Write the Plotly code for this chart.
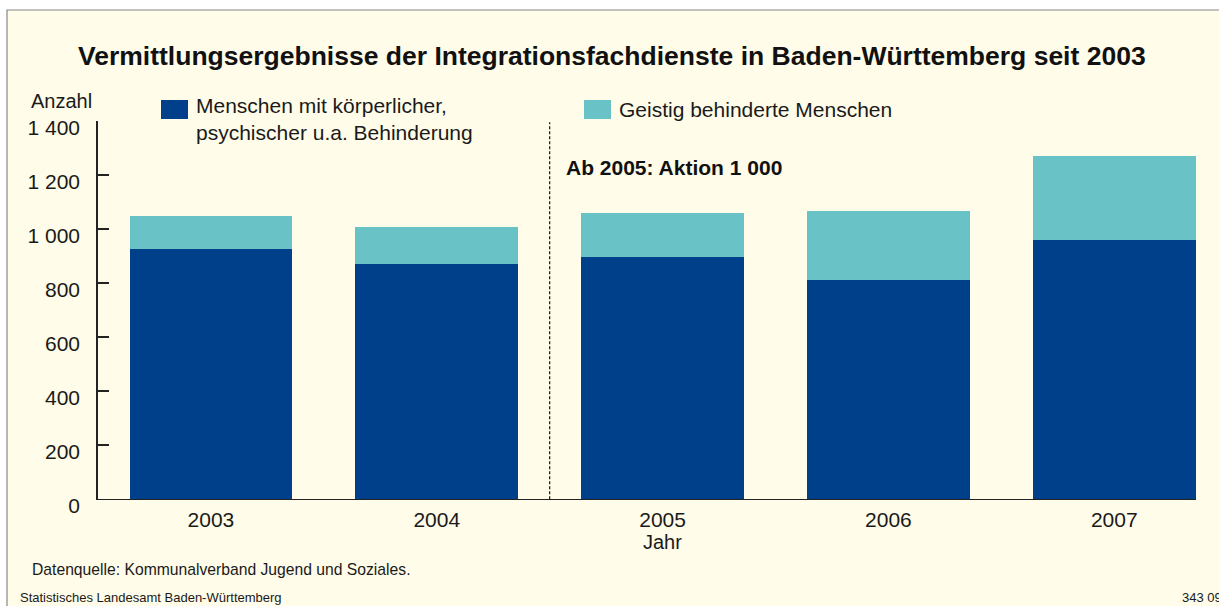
import plotly.graph_objects as go

# ---- data ----
years = ["2003", "2004", "2005", "2006", "2007"]
koerperlich = [926, 870, 897, 811, 959]      # Menschen mit körperlicher, psychischer u.a. Behinderung
geistig = [122, 137, 162, 255, 311]          # Geistig behinderte Menschen
y_tick_values = [0, 200, 400, 600, 800, 1000, 1200, 1400]
y_tick_labels = ["0", "200", "400", "600", "800", "1 000", "1 200", "1 400"]

DARK = "#00408A"
TEAL = "#69C2C5"
BG = "#FFFCE9"
TXT = "#1a1a1a"
FONT = "Liberation Sans, Arial, sans-serif"

W, H = 1219, 606
L, R, T, B = 98, 23, 121, 100
PW, PH = W - L - R, H - T - B
AXIS_BOTTOM = 499.3          # pixel row of value 0 on the bar axis
SHIFT = (H - B - AXIS_BOTTOM) / PH   # fraction of plot height between label axis and bar axis


def px(x):
    return (x - L) / PW


def py(y):
    return (H - B - y) / PH


fig = go.Figure()
fig.add_trace(go.Bar(x=years, y=koerperlich, marker=dict(color=DARK, line=dict(width=0)),
                     width=0.72, name="Menschen mit körperlicher, psychischer u.a. Behinderung",
                     showlegend=False))
fig.add_trace(go.Bar(x=years, y=geistig, marker=dict(color=TEAL, line=dict(width=0)),
                     width=0.72, name="Geistig behinderte Menschen", showlegend=False))
# invisible trace carrying the tick-label axis
fig.add_trace(go.Scatter(x=[years[0]], y=[None], yaxis="y2", showlegend=False, hoverinfo="skip"))

fig.update_layout(
    width=W, height=H,
    margin=dict(l=L, r=R, t=T, b=B, pad=0),
    barmode="stack",
    paper_bgcolor="white",
    plot_bgcolor="rgba(0,0,0,0)",
    font=dict(family=FONT, color=TXT, size=21),
    xaxis=dict(type="category", range=[-0.5, 4.362], showgrid=False, zeroline=False,
               showline=True, linecolor="#222", linewidth=1.3, ticks="", anchor="y",
               tickfont=dict(size=21, color=TXT), ticklabelstandoff=1),
    yaxis=dict(range=[0, 1400], domain=[SHIFT, 1], tickvals=y_tick_values, showticklabels=False,
               ticks="inside", ticklen=11, tickwidth=1.6, tickcolor="#222",
               showline=True, linecolor="#222", linewidth=1.6, showgrid=False, zeroline=False),
    yaxis2=dict(range=[0, 1400], domain=[0, 1 - SHIFT], anchor="x", side="left",
                tickvals=y_tick_values, ticktext=y_tick_labels, showline=False, showgrid=False,
                zeroline=False, ticks="", tickfont=dict(size=21, color=TXT), ticklabelstandoff=17),
)

shapes = [
    # frame / background
    dict(type="rect", xref="paper", yref="paper", x0=px(7), x1=px(1240), y0=py(630), y1=py(10),
         fillcolor=BG, line=dict(color="#888", width=1.2), layer="below"),
    # dashed separator between 2004 and 2005
    dict(type="line", xref="x", yref="y", x0=1.5, x1=1.5, y0=0, y1=1395,
         line=dict(color="#111", width=1.2, dash="3px,2px")),
    # legend swatches
    dict(type="rect", xref="paper", yref="paper", x0=px(161), x1=px(188), y0=py(119), y1=py(100),
         fillcolor=DARK, line=dict(width=0)),
    dict(type="rect", xref="paper", yref="paper", x0=px(584), x1=px(611), y0=py(119), y1=py(100),
         fillcolor=TEAL, line=dict(width=0)),
]

ann = [
    dict(text="<b>Vermittlungsergebnisse der Integrationsfachdienste in Baden-Württemberg seit 2003</b>",
         x=px(612), y=py(56), xanchor="center", yanchor="middle", font=dict(size=26.5, color="#111")),
    dict(text="Anzahl", x=px(29), y=py(101), xanchor="left", yanchor="middle", font=dict(size=20)),
    dict(text="Menschen mit körperlicher,<br>psychischer u.a. Behinderung", x=px(194), y=py(119),
         xanchor="left", yanchor="middle", align="left", font=dict(size=21)),
    dict(text="Geistig behinderte Menschen", x=px(617), y=py(109), xanchor="left", yanchor="middle",
         font=dict(size=21)),
    dict(text="<b>Ab 2005: Aktion 1 000</b>", x=px(564), y=py(167), xanchor="left", yanchor="middle",
         font=dict(size=21, color="#111")),
    dict(text="Jahr", xref="x", x=2, y=py(542), xanchor="center", yanchor="middle", font=dict(size=20)),
    dict(text="Datenquelle: Kommunalverband Jugend und Soziales.", x=px(30), y=py(569),
         xanchor="left", yanchor="middle", font=dict(size=15.7)),
    dict(text="Statistisches Landesamt Baden-Württemberg", x=px(18), y=py(597),
         xanchor="left", yanchor="middle", font=dict(size=13)),
    dict(text="343 09", x=px(1180), y=py(597), xanchor="left", yanchor="middle", font=dict(size=13)),
]
for a in ann:
    a.setdefault("xref", "paper")
    a.setdefault("yref", "paper")
    a["showarrow"] = False
    a.setdefault("align", "left")

fig.update_layout(shapes=shapes, annotations=ann)
fig.write_html("out.html", config={"displayModeBar": False},
               post_script="document.body.style.margin='0px';")
